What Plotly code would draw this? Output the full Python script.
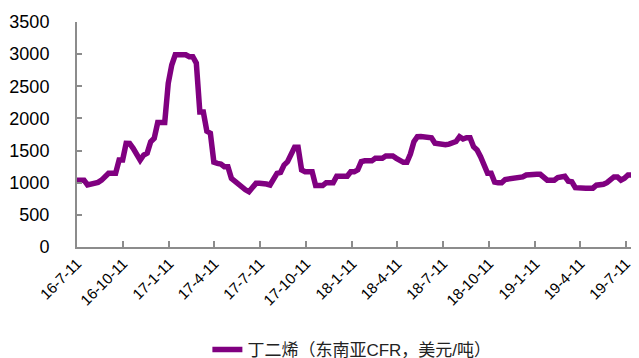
import datetime as dt
import plotly.graph_objects as go

start = dt.date(2016, 7, 11)
values = [
    1040, 1040, 1040, 965, 975, 975, 1005, 1040, 1094, 1146,
    1146, 1146, 1353, 1353, 1613, 1610, 1535, 1450, 1350, 1430,
    1460, 1638, 1690, 1935, 1935, 1935, 2546, 2831, 2990, 2990,
    2990, 2990, 2960, 2960, 2860, 2100, 2100, 1800, 1770, 1320,
    1300, 1290, 1249, 1249, 1068, 1020, 990, 938, 890, 860,
    912, 990, 990, 990, 980, 965, 1042, 1146, 1160, 1275,
    1327, 1431, 1550, 1550, 1200, 1172, 1172, 1172, 955, 955,
    955, 1000, 1000, 1000, 1100, 1100, 1100, 1100, 1170, 1170,
    1200, 1327, 1340, 1340, 1340, 1380, 1380, 1380, 1415, 1415,
    1415, 1380, 1350, 1317, 1317, 1447, 1638, 1716, 1720, 1720,
    1700, 1700, 1613, 1600, 1590, 1590, 1600, 1613, 1640, 1716,
    1680, 1700, 1700, 1560, 1510, 1405, 1290, 1146, 1146, 1010,
    1000, 1000, 1050, 1055, 1055, 1070, 1080, 1090, 1120, 1130,
    1130, 1130, 1130, 1090, 1040, 1040, 1040, 1080, 1100, 1100,
    1024, 1015, 923, 915, 915, 915, 915, 915, 962, 965,
    975, 1000, 1040, 1090, 1090, 1040, 1070, 1120, 1120, 1120,
]
dates = [start + dt.timedelta(weeks=i) for i in range(len(values))]

tick_dates = ["2016-07-11", "2016-10-11", "2017-01-11", "2017-04-11", "2017-07-11",
              "2017-10-11", "2018-01-11", "2018-04-11", "2018-07-11", "2018-10-11",
              "2019-01-11", "2019-04-11", "2019-07-11"]
tick_labels = ["16-7-11", "16-10-11", "17-1-11", "17-4-11", "17-7-11", "17-10-11",
               "18-1-11", "18-4-11", "18-7-11", "18-10-11", "19-1-11", "19-4-11", "19-7-11"]
series_name = "丁二烯（东南亚CFR，美元/吨）"

font_family = "Liberation Sans, Arial, Noto Sans CJK SC, sans-serif"

fig = go.Figure()
fig.add_trace(go.Scatter(
    x=dates, y=values, mode="lines", name=series_name,
    line=dict(color="#800080", width=5.5, shape="linear"),
))

# the page body has an 8px margin, so the figure is sized/offset to compensate
fig.update_layout(
    width=631, height=366,
    margin=dict(l=69, r=1, t=14, b=127),
    paper_bgcolor="white", plot_bgcolor="white",
    font=dict(family=font_family, color="#000000"),
    showlegend=True,
    legend=dict(orientation="h", x=0.49, xanchor="center", y=-0.458, yanchor="middle",
                font=dict(size=17, color="#222222"), bgcolor="rgba(0,0,0,0)"),
)
fig.update_xaxes(
    type="date", range=["2016-07-11", "2019-08-04"], automargin=False,
    tickmode="array", tickvals=tick_dates, ticktext=tick_labels,
    tickangle=-45, tickfont=dict(size=15),
    showgrid=False, zeroline=False,
    showline=True, linecolor="#8c8c8c", linewidth=2,
    ticks="inside", ticklen=6, tickcolor="#8c8c8c", tickwidth=1.5,
)
fig.update_yaxes(
    range=[0, 3500], tickvals=[0, 500, 1000, 1500, 2000, 2500, 3000, 3500],
    tickfont=dict(size=18), automargin=False,
    showgrid=False, zeroline=False,
    showline=True, linecolor="#8c8c8c", linewidth=2,
    ticks="inside", ticklen=5, tickcolor="#8c8c8c", tickwidth=1.5,
    ticklabelstandoff=22,
)

fig.write_html("out.html")
